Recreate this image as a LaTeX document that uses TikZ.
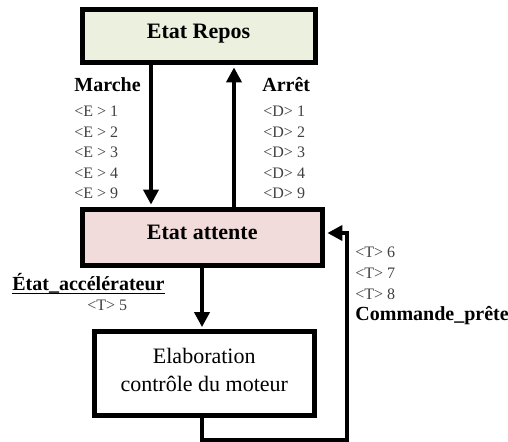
\documentclass[tikz,border=0pt]{standalone}
\usepackage{fontspec}
\setmainfont{Liberation Serif}
\usepackage{tikz}
\usetikzlibrary{arrows.meta,calc}
\definecolor{mygreen}{RGB}{235,241,222}
\definecolor{mypink}{RGB}{242,220,219}
\definecolor{mygrey}{RGB}{64,64,64}
\tikzstyle{statebox}=[draw,line width=2.5pt,inner sep=0pt,text height=7.3pt,text depth=5pt,font=\fontsize{11}{14}\selectfont\bfseries]
\tikzstyle{taskbox}=[draw,line width=2.5pt,inner sep=0pt,align=center,text depth=4pt,font=\fontsize{11}{14}\selectfont]
\tikzstyle{link}=[line width=2pt,shorten >=1.2pt,-{Triangle[length=7.5pt,width=7.5pt]}]
\tikzstyle{event}=[inner sep=0pt,anchor=base west,font=\fontsize{10}{12}\selectfont\bfseries]
\tikzstyle{cond}=[inner sep=0pt,anchor=base west,text=mygrey,font=\fontsize{8}{10}\selectfont]

\begin{document}
\begin{tikzpicture}[x=0.5pt,y=-0.5pt]
\useasboundingbox (0,0) rectangle (508,442);
% states
\node [statebox, fill=mygreen, minimum width=116.5pt, minimum height=26.5pt] (repos) at (198.5,36) {Etat Repos};
\node [statebox, fill=mypink, minimum width=120.25pt, minimum height=28pt] (attente) at (202.25,237.5) {Etat attente};
\node [taskbox, fill=white, minimum width=110.25pt, minimum height=41.75pt] (elab) at (204.25,373.75) {Elaboration\\contrôle du moteur};
% where the connectors run
\coordinate (down) at (151,0);
\coordinate (up) at (234,0);
\coordinate (mid) at (202,0);
\coordinate (loopa) at (202,440);
\coordinate (loopb) at (347,440);
\coordinate (loopc) at (347,233);
\draw [link] (repos.south -| down) -- (attente.north -| down);
\draw [link] (attente.north -| up) -- (repos.south -| up);
\draw [link] (attente.south -| mid) -- (elab.north -| mid);
\draw [link] (elab.south -| loopa) -- (loopa) -- (loopb) -- (loopc) -- (attente.east |- loopc);
% Marche
\node [event] (marche) at (74,92) {Marche};
\node [cond] (e1) at (74,117) {<E > 1};
\node [cond] (e2) at (74,137.5) {<E > 2};
\node [cond] (e3) at (74,158) {<E > 3};
\node [cond] (e4) at (74,178.5) {<E > 4};
\node [cond] (e9) at (74,199) {<E > 9};
% Arret
\node [event] (arret) at (262,92) {Arrêt};
\node [cond] (d1) at (263,117) {<D> 1};
\node [cond] (d2) at (263,137.5) {<D> 2};
\node [cond] (d3) at (263,158) {<D> 3};
\node [cond] (d4) at (263,178.5) {<D> 4};
\node [cond] (d9) at (263,199) {<D> 9};
% accelerateur
\node [event] (accel) at (12,291) {\underline{\smash{État\_accélérateur}}};
\node [cond] (t5) at (87,311) {<T> 5};
% retour
\node [cond] (t6) at (355,257.5) {<T> 6};
\node [cond] (t7) at (355,278.5) {<T> 7};
\node [cond] (t8) at (355,299.5) {<T> 8};
\node [event] (pret) at (355,321) {Commande\_prête};
\end{tikzpicture}
\end{document}
